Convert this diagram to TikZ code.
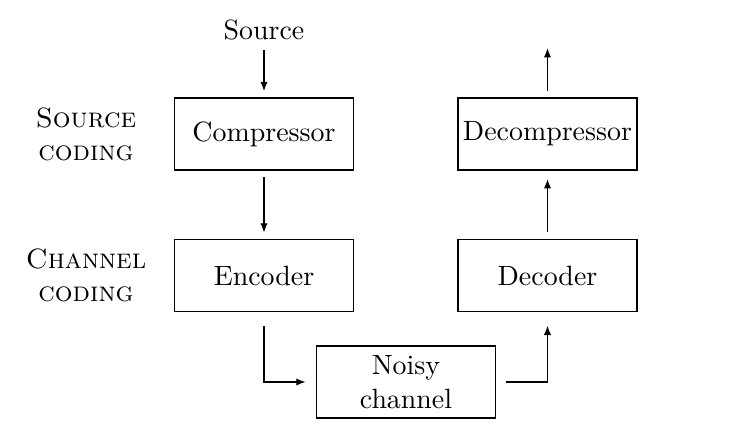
\documentclass[tikz,border=0pt]{standalone}
\usetikzlibrary{arrows.meta}
\begin{document}
\begin{tikzpicture}[x=0.3584pt,y=-0.3584pt,
  blk/.style={draw,line width=0.45pt,minimum width=64.2pt,minimum height=25.8pt,align=center,inner sep=0pt},
  lbl/.style={align=center,inner sep=0pt},
  arr/.style={-{Latex[length=3.4pt,width=2.6pt]},line width=0.45pt}]
\useasboundingbox (0,0) rectangle (746,440);
\node[lbl] (src) at (264,30) {Source};
\node[blk] (comp) at (264,134) {Compressor};
\node[blk] (enc) at (264,275.5) {Encoder};
\node[blk] (decomp) at (547.5,134) {Decompressor};
\node[blk] (dec) at (547.5,275.5) {Decoder};
\node[blk] (noisy) at (406,382) {Noisy\\channel};
\node[lbl] (sc) at (86,134.5) {\textsc{Source}\\\textsc{coding}};
\node[lbl] (cc) at (86,275.5) {\textsc{Channel}\\\textsc{coding}};
\coordinate (out) at (547.5,48);
\coordinate (srcfoot) at (264,50);
\draw[arr,shorten >=2.2pt] (srcfoot) -- (comp.north);
\draw[arr,shorten <=2.4pt,shorten >=2.2pt] (comp.south) -- (enc.north);
\draw[arr,shorten <=5.1pt,shorten >=3.6pt] (enc.south) |- (noisy.west);
\draw[arr,shorten <=3.6pt,shorten >=4.8pt] (noisy.east) -| (dec.south);
\draw[arr,shorten <=2.5pt,shorten >=3pt] (dec.north) -- (decomp.south);
\draw[arr,shorten <=2.4pt] (decomp.north) -- (out);
\end{tikzpicture}
\end{document}
